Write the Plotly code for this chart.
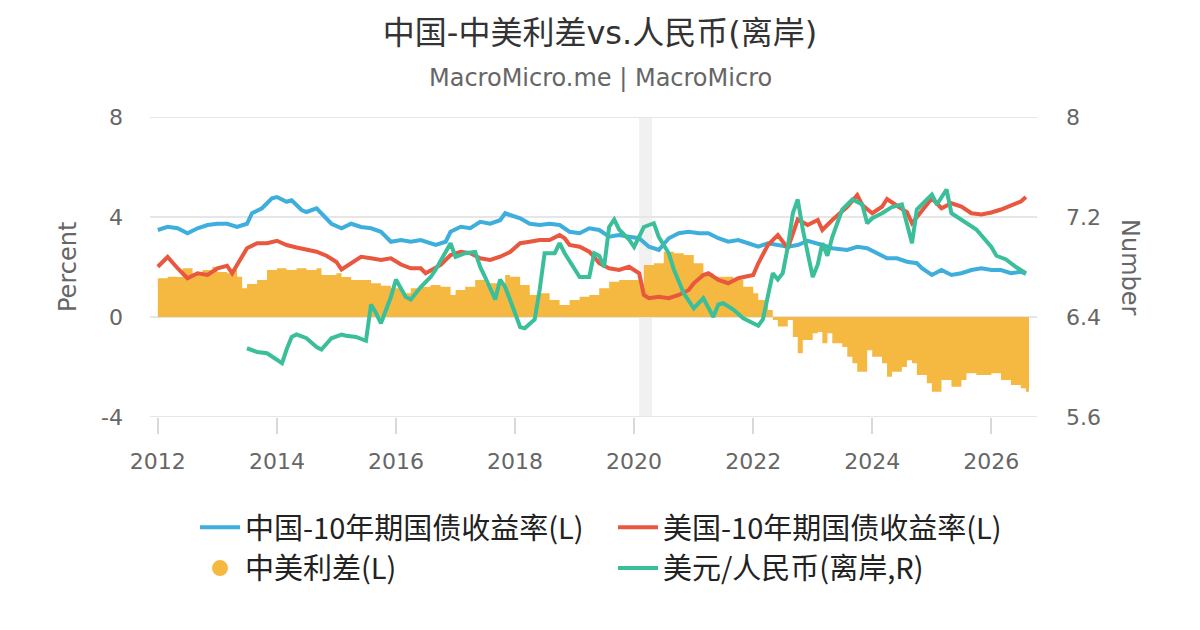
import plotly.graph_objects as go

# 中国10年期国债收益率 (%)
cn_dates = ["2012-01", "2012-03", "2012-05", "2012-07", "2012-09", "2012-11",
            "2013-01", "2013-03", "2013-05", "2013-07", "2013-08", "2013-10", "2013-12",
            "2014-01", "2014-03", "2014-04", "2014-06", "2014-07", "2014-09", "2014-10", "2014-12",
            "2015-02", "2015-04", "2015-06", "2015-08", "2015-10", "2015-12",
            "2016-02", "2016-04", "2016-06", "2016-08", "2016-09", "2016-11", "2016-12",
            "2017-02", "2017-04", "2017-06", "2017-08", "2017-10", "2017-11", "2017-12",
            "2018-02", "2018-04", "2018-06", "2018-08", "2018-10", "2018-12",
            "2019-02", "2019-04", "2019-06", "2019-08", "2019-10", "2019-12",
            "2020-02", "2020-04", "2020-06", "2020-08", "2020-10", "2020-12",
            "2021-02", "2021-04", "2021-06", "2021-08", "2021-10", "2021-12",
            "2022-02", "2022-04", "2022-06", "2022-08", "2022-10", "2022-12",
            "2023-03", "2023-05", "2023-08", "2023-10", "2023-12",
            "2024-02", "2024-04", "2024-06", "2024-08", "2024-10", "2024-11",
            "2025-01", "2025-03", "2025-05", "2025-07", "2025-09", "2025-11",
            "2026-01", "2026-03", "2026-05", "2026-07", "2026-08"]
cn_10y = [3.48, 3.61, 3.55, 3.35, 3.55, 3.68,
          3.73, 3.73, 3.60, 3.73, 4.15, 4.35, 4.75,
          4.80, 4.61, 4.67, 4.28, 4.20, 4.35, 4.15, 3.73,
          3.55, 3.73, 3.60, 3.55, 3.41, 3.01,
          3.08, 3.01, 3.08, 2.95, 2.88, 3.01, 3.41,
          3.61, 3.55, 3.81, 3.73, 3.87, 4.15, 4.08,
          3.95, 3.73, 3.68, 3.73, 3.68, 3.41,
          3.35, 3.55, 3.48, 3.21, 3.28, 3.21,
          3.15, 2.81, 2.68, 3.15, 3.35, 3.41,
          3.35, 3.35, 3.15, 3.01, 3.08, 2.95,
          2.81, 2.95, 2.88, 2.81, 2.88, 3.05,
          2.88, 2.75, 2.68, 2.81, 2.75,
          2.55, 2.35, 2.35, 2.21, 2.15, 1.95,
          1.68, 1.88, 1.68, 1.75, 1.88, 1.95,
          1.88, 1.88, 1.75, 1.81, 1.72]

# 美国10年期国债收益率 (%)
us_dates = ["2012-01", "2012-03", "2012-05", "2012-07", "2012-09", "2012-11",
            "2013-01", "2013-03", "2013-04", "2013-06", "2013-07", "2013-09", "2013-11",
            "2014-01", "2014-03", "2014-05", "2014-07", "2014-09", "2014-11",
            "2015-01", "2015-02", "2015-04", "2015-06", "2015-08", "2015-10", "2015-12",
            "2016-02", "2016-04", "2016-06", "2016-07", "2016-09", "2016-10", "2016-12",
            "2017-02", "2017-04", "2017-06", "2017-08", "2017-10", "2017-12",
            "2018-02", "2018-04", "2018-06", "2018-08", "2018-10", "2018-11", "2018-12",
            "2019-02", "2019-04", "2019-05", "2019-06", "2019-08", "2019-10", "2019-12",
            "2020-02", "2020-03", "2020-04", "2020-06", "2020-08", "2020-10", "2020-12",
            "2021-01", "2021-03", "2021-04", "2021-06", "2021-08", "2021-10",
            "2022-01", "2022-02", "2022-04", "2022-06", "2022-08", "2022-10", "2022-12",
            "2023-02", "2023-03", "2023-05", "2023-08", "2023-10", "2023-11",
            "2024-01", "2024-03", "2024-04", "2024-06", "2024-08", "2024-09", "2024-11",
            "2025-01", "2025-03", "2025-05", "2025-07", "2025-09", "2025-11",
            "2026-01", "2026-03", "2026-05", "2026-07", "2026-08"]
us_10y = [2.01, 2.40, 1.95, 1.55, 1.75, 1.68,
          1.95, 2.05, 1.75, 2.41, 2.75, 2.95, 2.95,
          3.05, 2.88, 2.78, 2.68, 2.61, 2.45,
          2.20, 1.90, 2.15, 2.41, 2.35, 2.28, 2.35,
          2.10, 1.95, 1.95, 1.75, 1.95, 2.08, 2.48,
          2.61, 2.55, 2.35, 2.28, 2.41, 2.60,
          2.95, 3.01, 3.08, 3.08, 3.28, 3.15, 2.88,
          2.81, 2.61, 2.41, 2.15, 1.95, 1.88, 2.01,
          1.75, 0.88, 0.75, 0.81, 0.75, 0.88, 1.08,
          1.35, 1.68, 1.75, 1.48, 1.35, 1.55,
          1.68, 2.15, 2.88, 3.28, 2.75, 3.90, 3.68,
          3.88, 3.48, 3.88, 4.41, 4.88, 4.48,
          4.15, 4.41, 4.72, 4.45, 4.20, 3.75, 4.28,
          4.75, 4.35, 4.55, 4.42, 4.15, 4.10,
          4.18, 4.30, 4.45, 4.62, 4.80]

# 中美利差 (%)
spread_dates = ["2012-01", "2012-03", "2012-05", "2012-06", "2012-08", "2012-10", "2012-12",
                "2013-01", "2013-03", "2013-04", "2013-05", "2013-06", "2013-07", "2013-09", "2013-11",
                "2014-01", "2014-03", "2014-05", "2014-07", "2014-09", "2014-10",
                "2015-01", "2015-02", "2015-04", "2015-06", "2015-08", "2015-10", "2015-12",
                "2016-02", "2016-04", "2016-06", "2016-08", "2016-10", "2016-12",
                "2017-01", "2017-03", "2017-05", "2017-07", "2017-09", "2017-11", "2017-12",
                "2018-02", "2018-04", "2018-06", "2018-08", "2018-10", "2018-12",
                "2019-02", "2019-04", "2019-06", "2019-08", "2019-10", "2019-12",
                "2020-02", "2020-03", "2020-05", "2020-07", "2020-09", "2020-11",
                "2021-01", "2021-03", "2021-05", "2021-07", "2021-09", "2021-11",
                "2022-01", "2022-02", "2022-04", "2022-05", "2022-06", "2022-08", "2022-09",
                "2022-10", "2022-11",
                "2023-01", "2023-02", "2023-03", "2023-04", "2023-05", "2023-07", "2023-08",
                "2023-09", "2023-10", "2023-12",
                "2024-01", "2024-03", "2024-04", "2024-05", "2024-07", "2024-08", "2024-09",
                "2024-10", "2024-12",
                "2025-01", "2025-03", "2025-05", "2025-07", "2025-08", "2025-10",
                "2026-01", "2026-03", "2026-05", "2026-07", "2026-08", "2026-08-20"]
spread = [1.55, 1.61, 1.60, 1.95, 1.75, 1.88, 2.01,
          1.80, 1.75, 1.88, 1.61, 1.15, 1.32, 1.48, 1.88,
          1.95, 1.88, 1.95, 1.88, 1.95, 1.68,
          1.75, 1.60, 1.48, 1.48, 1.35, 1.25, 1.15,
          0.95, 1.15, 1.21, 1.28, 1.21, 0.88,
          1.08, 1.21, 1.48, 1.35, 1.35, 1.68, 1.61,
          1.28, 0.88, 0.95, 0.68, 0.48, 0.68,
          0.81, 0.88, 1.15, 1.41, 1.48, 1.48,
          1.35, 2.08, 2.15, 2.61, 2.55, 2.48,
          2.15, 1.75, 1.61, 1.61, 1.48, 1.21,
          0.95, 0.68, 0.28, -0.12, -0.38, -0.12, -0.80,
          -1.45, -0.92,
          -0.65, -0.60, -1.05, -0.65, -1.05, -1.20, -1.59,
          -1.85, -2.19, -1.33,
          -1.59, -1.85, -2.39, -2.19, -2.00, -1.73, -1.85,
          -2.32, -2.65,
          -2.99, -2.52, -2.79, -2.52, -2.25, -2.32,
          -2.25, -2.52, -2.72, -2.85, -2.99, -2.99]

# 美元/人民币(离岸)
fx_dates = ["2013-07", "2013-09", "2013-11", "2014-01", "2014-02", "2014-03", "2014-04",
            "2014-05", "2014-07", "2014-09", "2014-10", "2014-12",
            "2015-02", "2015-03", "2015-05", "2015-07", "2015-08", "2015-09", "2015-10", "2015-12",
            "2016-01", "2016-03", "2016-04", "2016-06", "2016-08", "2016-09", "2016-11", "2016-12",
            "2017-01", "2017-03", "2017-05", "2017-06", "2017-07", "2017-09", "2017-10", "2017-11",
            "2018-01", "2018-02", "2018-03", "2018-05", "2018-06", "2018-07", "2018-09", "2018-10",
            "2018-11",
            "2019-01", "2019-02", "2019-04", "2019-05", "2019-06", "2019-07", "2019-08", "2019-09",
            "2019-10", "2019-12",
            "2020-01", "2020-03", "2020-05", "2020-06", "2020-08", "2020-09", "2020-11",
            "2021-01", "2021-03", "2021-05", "2021-06", "2021-07", "2021-09", "2021-11",
            "2022-01", "2022-02", "2022-03", "2022-05", "2022-06", "2022-07", "2022-08", "2022-09",
            "2022-10", "2022-11",
            "2023-01", "2023-02", "2023-03", "2023-04", "2023-05", "2023-07", "2023-09", "2023-11",
            "2023-12",
            "2024-01", "2024-03", "2024-05", "2024-07", "2024-08", "2024-09", "2024-10",
            "2025-01", "2025-02", "2025-04", "2025-05", "2025-07", "2025-08", "2025-10",
            "2026-01", "2026-02", "2026-04", "2026-06", "2026-08"]
usd_cnh = [6.15, 6.12, 6.11, 6.06, 6.03, 6.14, 6.24,
           6.26, 6.23, 6.16, 6.14, 6.23,
           6.26, 6.25, 6.24, 6.21, 6.50, 6.43, 6.35, 6.56,
           6.70, 6.56, 6.54, 6.64, 6.72, 6.78, 6.92, 6.99,
           6.88, 6.91, 6.92, 6.80, 6.72, 6.54, 6.70, 6.64,
           6.43, 6.32, 6.31, 6.38, 6.62, 6.91, 6.91, 6.99,
           6.91,
           6.78, 6.72, 6.72, 6.91, 6.89, 6.80, 7.12, 7.18,
           7.10, 7.02,
           6.96, 7.12, 7.15, 7.04, 6.91, 6.78, 6.59,
           6.47, 6.55, 6.40, 6.50, 6.51, 6.46, 6.39,
           6.35, 6.33, 6.38, 6.75, 6.70, 6.75, 6.96, 7.23,
           7.34, 7.10,
           6.72, 6.82, 6.99, 6.89, 7.04, 7.26, 7.34, 7.30,
           7.15,
           7.19, 7.23, 7.28, 7.30, 7.15, 6.99, 7.26,
           7.38, 7.30, 7.42, 7.23, 7.18, 7.15, 7.10,
           6.96, 6.89, 6.86, 6.80, 6.75]

covid_band = ["2020-02-01", "2020-04-20"]

left_ticks = [-4, 0, 4, 8]
left_labels = ["-4", "0", "4", "8"]
right_ticks = [5.6, 6.4, 7.2, 8.0]
right_labels = ["5.6", "6.4", "7.2", "8"]
year_ticks = ["2012-01-01", "2014-01-01", "2016-01-01", "2018-01-01",
              "2020-01-01", "2022-01-01", "2024-01-01", "2026-01-01"]
year_labels = ["2012", "2014", "2016", "2018", "2020", "2022", "2024", "2026"]

BLUE = "#3eaedd"
RED = "#e9573e"
YELLOW = "#f5b942"
GREEN = "#3bbf9a"
TXT = "#666666"
GRID = "#e6e6e6"
FONT = "DejaVu Sans, Noto Sans CJK SC, sans-serif"
LEGEND_FONT = "Noto Sans CJK SC, sans-serif"

# the page puts the figure 8px in from the top-left, so the layout is laid out 8px up/left
OFF = 8
L, T = 150 - OFF, 117 - OFF
PW, PH = 887, 300

fig = go.Figure()

# spread drawn as a stepped area so it reads like dense bars
fig.add_trace(go.Scatter(
    x=spread_dates, y=spread, mode="lines", line=dict(width=0, shape="hv", color=YELLOW),
    fill="tozeroy", fillcolor=YELLOW, showlegend=False, legendgroup="spread",
    hoverinfo="skip",
))
fig.add_trace(go.Scatter(
    x=cn_dates, y=cn_10y, mode="lines", line=dict(color=BLUE, width=4),
    name="中国-10年期国债收益率(L)",
))
fig.add_trace(go.Scatter(
    x=us_dates, y=us_10y, mode="lines", line=dict(color=RED, width=4),
    name="美国-10年期国债收益率(L)",
))
# legend-only marker for the spread (round swatch like the original)
fig.add_trace(go.Scatter(
    x=[None], y=[None], mode="markers", marker=dict(color=YELLOW, size=26, symbol="circle"),
    name="中美利差(L)", legendgroup="spread",
))
fig.add_trace(go.Scatter(
    x=fx_dates, y=usd_cnh, mode="lines", line=dict(color=GREEN, width=4),
    name="美元/人民币(离岸,R)", yaxis="y2",
))

fig.add_shape(type="rect", xref="x", yref="paper", x0=covid_band[0], x1=covid_band[1],
              y0=0, y1=1, fillcolor="#f1f1f1", line_width=0, layer="below")
# gridlines on the plot edges (plotly drops them there)
for yv in (left_ticks[0], left_ticks[-1]):
    fig.add_shape(type="line", xref="paper", yref="y", x0=0, x1=1, y0=yv, y1=yv,
                  line=dict(color=GRID, width=2), layer="below")

fig.update_layout(
    width=1200, height=630,
    margin=dict(l=L, r=1200 - L - PW, t=T, b=630 - T - PH, autoexpand=False),
    plot_bgcolor="white", paper_bgcolor="white",
    font=dict(family=FONT, color=TXT, size=22),
    title=dict(text="中国-中美利差vs.人民币(离岸)", x=(600 - OFF) / 1200, xanchor="center",
               y=1 - (33 - OFF) / 630, yanchor="middle",
               font=dict(family=FONT, size=32, color="#333333")),
    xaxis=dict(
        type="date", range=["2011-11-14", "2026-10-08"],
        tickvals=year_ticks, ticktext=year_labels,
        showgrid=False, showline=False, zeroline=False,
        ticks="outside", ticklen=16, tickcolor="#d9d9d9", tickwidth=2,
        ticklabelstandoff=9, tickfont=dict(size=22, color=TXT),
    ),
    yaxis=dict(
        range=[-4, 8], tickvals=left_ticks, ticktext=left_labels,
        showgrid=True, gridcolor=GRID, gridwidth=2,
        zeroline=False, showline=False, ticks="", ticklabelstandoff=26,
        tickfont=dict(size=22, color=TXT),
    ),
    yaxis2=dict(
        range=[5.6, 8.0], tickvals=right_ticks, ticktext=right_labels,
        overlaying="y", side="right", showgrid=False, zeroline=False, showline=False,
        ticks="", ticklabelstandoff=28, tickfont=dict(size=22, color=TXT),
    ),
    legend=dict(
        orientation="h", xref="container", x=(195 - OFF) / 1200, xanchor="left",
        yref="container", y=1 - (502 - OFF) / 630, yanchor="top",
        entrywidth=363, entrywidthmode="pixels", itemwidth=40,
        font=dict(family=LEGEND_FONT, size=29, color="#222222"),
        traceorder="normal",
    ),
    annotations=[
        dict(text="MacroMicro.me | MacroMicro", xref="paper", yref="paper",
             x=(600 - OFF - L) / PW, y=(T + PH - (78 - OFF)) / PH, xanchor="center",
             yanchor="middle", showarrow=False, font=dict(family=FONT, size=24, color=TXT)),
        dict(text="Percent", xref="paper", yref="paper", x=(68 - OFF - L) / PW, y=0.5,
             xanchor="center", yanchor="middle", textangle=-90, showarrow=False,
             font=dict(family=FONT, size=24, color=TXT)),
        dict(text="Number", xref="paper", yref="paper", x=(1130 - OFF - L) / PW, y=0.5,
             xanchor="center", yanchor="middle", textangle=90, showarrow=False,
             font=dict(family=FONT, size=24, color=TXT)),
    ],
)

fig.write_html("out.html")
